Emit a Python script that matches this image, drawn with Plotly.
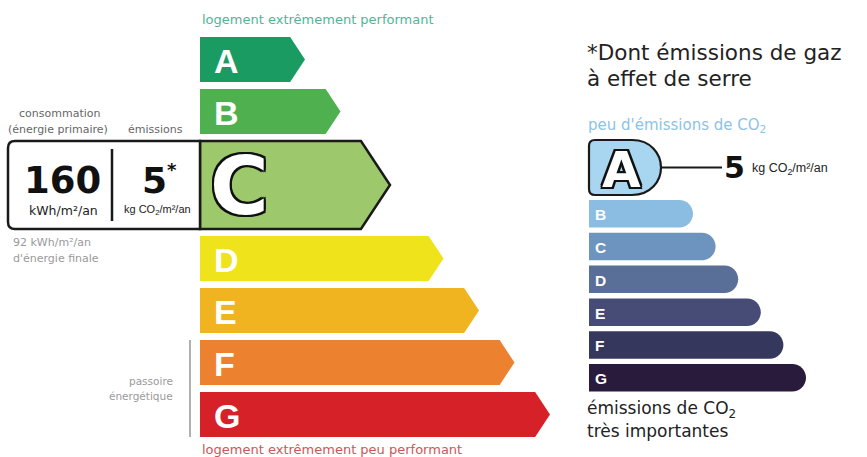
import plotly.graph_objects as go

# ---------------- data ----------------
classes = ["A", "B", "C", "D", "E", "F", "G"]
dpe_class = "C"          # energy class of the dwelling
ges_class = "A"          # greenhouse-gas class
consumption_kwh = 160    # kWh/m²/an (énergie primaire)
emissions_kg = 5         # kg CO2/m²/an
final_energy_kwh = 92    # kWh/m²/an (énergie finale)

# ---------------- styles ----------------
dpe_colors = ["#1a9b61", "#4fb04f", "#9dc86b", "#efe31c", "#efb41f", "#ec812f", "#d62128"]
ges_colors = ["#a8d6f1", "#8bbde2", "#6d94bf", "#596f97", "#474c76", "#36375d", "#291b3b"]

W, H = 867, 457
SANS = "Liberation Sans"
DV = "DejaVu Sans"
OUTLINE = ("2px 2px 0 #111, -2px 2px 0 #111, 2px -2px 0 #111, -2px -2px 0 #111, "
           "0 2px 0 #111, 0 -2px 0 #111, 2px 0 0 #111, -2px 0 0 #111")

fig = go.Figure()
fig.update_layout(
    width=W, height=H, margin=dict(l=0, r=0, t=0, b=0),
    paper_bgcolor="white", plot_bgcolor="white", showlegend=False,
    xaxis=dict(range=[0, W], visible=False, fixedrange=True),
    yaxis=dict(range=[H, 0], visible=False, fixedrange=True),
)
# invisible anchor trace so the cartesian axes exist
fig.add_trace(go.Scatter(x=[0, W], y=[0, H], mode="markers", marker=dict(opacity=0), hoverinfo="skip"))


def txt(x, y, s, size, color="#222", family=SANS, xa="left", ya="middle", bold=False, shadow=None):
    f = dict(family=family, size=size, color=color)
    if bold:
        f["weight"] = "bold"
    if shadow:
        f["shadow"] = shadow
    fig.add_annotation(x=x, y=y, text=s, showarrow=False, xanchor=xa, yanchor=ya,
                       font=f, xref="x", yref="y")


# ---------------- left DPE scale ----------------
x_left = 200
cur = classes.index(dpe_class)
y = 37
for i, c in enumerate(classes):
    current = (i == cur)
    h = 88 if current else 45
    tip = 305 + 35.5 * i + (14 if current else 0) + (32 if i > cur else 0)
    x1 = tip - h / 2 * 0.66
    y0, y1, ym = y, y + h, y + h / 2
    path = f"M {x_left},{y0} L {x1},{y0} L {tip},{ym} L {x1},{y1} L {x_left},{y1} Z"
    fig.add_shape(type="path", path=path, xref="x", yref="y",
                  fillcolor=dpe_colors[i],
                  line=dict(color="#1a1a1a", width=2.5) if current else dict(width=0))
    if current:
        # consumption box at the left of the current class
        r = 7
        bx = 8
        box = (f"M {x_left},{y0} L {bx + r},{y0} Q {bx},{y0} {bx},{y0 + r} L {bx},{y1 - r} "
               f"Q {bx},{y1} {bx + r},{y1} L {x_left},{y1} Z")
        fig.add_shape(type="path", path=box, xref="x", yref="y", fillcolor="white",
                      line=dict(color="#1a1a1a", width=2.5))
        fig.add_shape(type="line", x0=112, x1=112, y0=y0 + 8, y1=y1 - 8, xref="x", yref="y",
                      line=dict(color="#1a1a1a", width=2.5))
        txt(239, ym + 1, c, 80, "white", DV, "center", bold=True, shadow=OUTLINE)
        txt(62, ym - 5, str(consumption_kwh), 37, "#111", DV, "center", bold=True)
        txt(63, y0 + 69, "kWh/m²/an", 12.5, "#222", DV, "center")
        txt(154, ym - 5, str(emissions_kg), 36, "#111", DV, "center", bold=True)
        txt(172, ym - 16, "*", 18, "#111", DV, "center", bold=True)
        txt(157, y0 + 69, "kg CO<sub>2</sub>/m²/an", 11, "#222", SANS, "center")
    else:
        txt(212, ym + 1, c, 34, "white", SANS, "left", bold=True)
    y = y1 + 7

txt(200, 19, "logement extrêmement performant", 13, "#4fb596", DV)
txt(200, 449, "logement extrêmement peu performant", 13, "#c9575a", DV)

txt(59, 113, "consommation", 11, "#666", DV, "center")
txt(58, 129, "(énergie primaire)", 11, "#666", DV, "center")
txt(155, 129, "émissions", 11, "#666", DV, "center")
txt(11, 242, f"{final_energy_kwh} kWh/m²/an", 11, "#9a9a9a", DV)
txt(11, 258, "d'énergie finale", 11, "#9a9a9a", DV)
txt(175, 381, "passoire", 10.5, "#9a9a9a", DV, "right")
txt(175, 396, "énergétique", 10.5, "#9a9a9a", DV, "right")
fig.add_shape(type="line", x0=190, x1=190, y0=340, y1=437, xref="x", yref="y",
              line=dict(color="#b0b0b0", width=2))

# ---------------- right GES scale ----------------
txt(585, 52, "*Dont émissions de gaz", 21.5, "#222", DV)
txt(585, 78, "à effet de serre", 21.5, "#222", DV)
txt(586, 125, "peu d'émissions de CO<sub>2</sub>", 15, "#8cc3e6", DV)

gx0 = 589
for i, c in enumerate(classes):
    if c == ges_class:
        y0, y1 = 140, 195
        ym = (y0 + y1) / 2
        path = (f"M {gx0 + 6},{y0} L 632,{y0} C 651,{y0} 661,{y0 + 14} 661,{ym} "
                f"C 661,{y1 - 14} 651,{y1} 632,{y1} L {gx0 + 6},{y1} Q {gx0},{y1} {gx0},{y1 - 6} "
                f"L {gx0},{y0 + 6} Q {gx0},{y0} {gx0 + 6},{y0} Z")
        fig.add_shape(type="path", path=path, xref="x", yref="y", fillcolor=ges_colors[i],
                      line=dict(color="#1a1a1a", width=2.2))
        txt(621, ym + 2, c, 50, "white", DV, "center", bold=True, shadow=OUTLINE)
        fig.add_shape(type="line", x0=662, x1=722, y0=ym, y1=ym, xref="x", yref="y",
                      line=dict(color="#1a1a1a", width=2))
        txt(722, ym, str(emissions_kg), 30, "#111", DV, bold=True)
        txt(750, ym + 1, "kg CO<sub>2</sub>/m²/an", 12.5, "#222", SANS)
    else:
        k = i - 1
        y0 = 200 + 32.8 * k
        y1 = y0 + 27.5
        ym = (y0 + y1) / 2
        xr = 693 + 22.6 * k
        r = 13.75
        path = (f"M {gx0},{y0} L {xr - r},{y0} C {xr - r * 0.45},{y0} {xr},{y0 + r * 0.45} {xr},{ym} "
                f"C {xr},{y1 - r * 0.45} {xr - r * 0.45},{y1} {xr - r},{y1} L {gx0},{y1} Z")
        fig.add_shape(type="path", path=path, xref="x", yref="y", fillcolor=ges_colors[i],
                      line=dict(width=0))
        txt(593, ym + 1, c, 15.5, "white", SANS, bold=True)

txt(585, 409, "émissions de CO<sub>2</sub>", 17, "#222", DV)
txt(585, 431, "très importantes", 17, "#222", DV)

fig.write_html("out.html", config={"displayModeBar": False},
               post_script="document.body.style.margin='0';document.body.style.overflow='hidden';")
